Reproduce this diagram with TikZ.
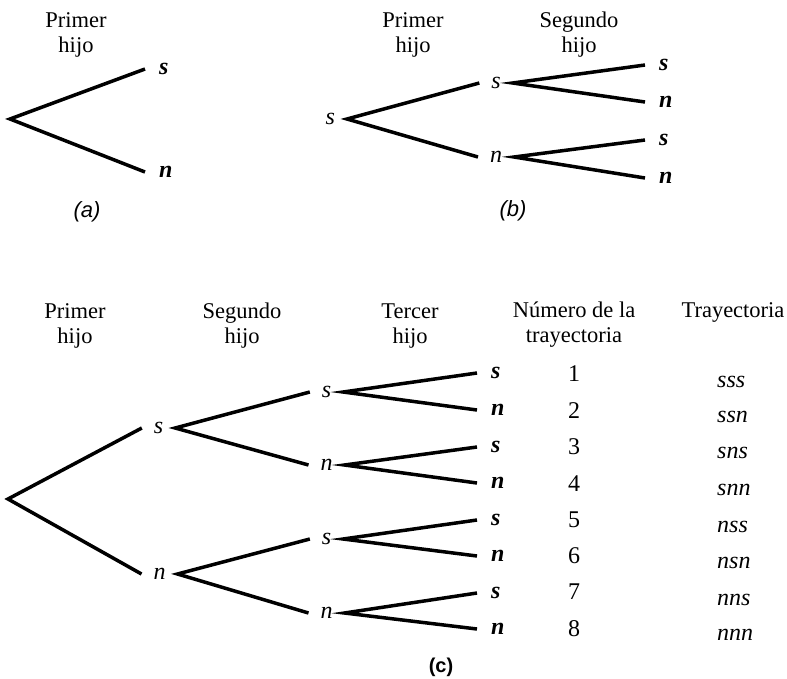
\documentclass[tikz,border=0pt]{standalone}
\usepackage{fontspec}
\setmainfont{Liberation Serif}
\setsansfont{Liberation Sans}
\begin{document}
\begin{tikzpicture}[x=1pt,y=-1pt,
  branch/.style={line width=3.5pt},
  head/.style={align=center,font=\fontsize{22.5}{24.5}\selectfont,inner sep=0pt,anchor=base},
  midlbl/.style={font=\fontsize{24}{26}\selectfont\itshape,inner xsep=12pt,inner ysep=0pt,
                text height=11pt,text depth=0pt,outer sep=0pt},
  leaf/.style={font=\fontsize{24}{26}\selectfont\bfseries\itshape,inner xsep=14pt,inner ysep=0pt,
               text height=11pt,text depth=0pt,outer sep=0pt,anchor=west},
  numlbl/.style={font=\fontsize{24}{26}\selectfont,inner sep=0pt,anchor=base},
  trail/.style={font=\fontsize{24}{26}\selectfont\itshape,inner sep=0pt,anchor=base west},
  sublbl/.style={font=\fontsize{22}{24}\selectfont\sffamily\itshape,inner sep=0pt},
  sublblc/.style={font=\fontsize{20}{22}\selectfont\sffamily\bfseries,inner sep=0pt}]
\useasboundingbox (0,0) rectangle (787,678);

% ---------- (a) ----------
\node[head] (ha) at (76,52) {Primer\\hijo};
\coordinate (ar) at (10,119);
\node[leaf] (as) at (145,69) {s};
\node[leaf] (an) at (145,172) {n};
\draw[branch] (as.west) -- (ar) -- (an.west);
\node[sublbl] (la) at (87,212) {(a)};

% ---------- (b) ----------
\node[head] (hb1) at (413,52) {Primer\\hijo};
\node[head] (hb2) at (579,52) {Segundo\\hijo};
\node[midlbl,anchor=east] (br) at (347,119) {s};
\node[midlbl] (bs) at (496,83) {s};
\node[midlbl] (bn) at (496,157) {n};
\node[leaf] (bss) at (645,65) {s};
\node[leaf] (bsn) at (645,102) {n};
\node[leaf] (bns) at (645,140) {s};
\node[leaf] (bnn) at (645,178) {n};
\draw[branch] (bs.west) -- (br.east) -- (bn.west);
\draw[branch] (bss.west) -- (bs.east) -- (bsn.west);
\draw[branch] (bns.west) -- (bn.east) -- (bnn.west);
\node[sublbl] (lb) at (513,211) {(b)};

% ---------- (c) ----------
\node[head] (hc1) at (75,343) {Primer\\hijo};
\node[head] (hc2) at (242,343) {Segundo\\hijo};
\node[head] (hc3) at (410,343) {Tercer\\hijo};
\node[head] (hc4) at (574,342) {Número de la\\trayectoria};
\node[head] (hc5) at (733,317) {Trayectoria};

\coordinate (cr) at (8,499);
\node[midlbl] (cs) at (158.5,428) {s};
\node[midlbl] (cn) at (159.5,574) {n};
\node[midlbl] (css) at (326.5,392) {s};
\node[midlbl] (csn) at (326.5,465) {n};
\node[midlbl] (cns) at (326.5,539) {s};
\node[midlbl] (cnn) at (326.5,613) {n};
\draw[branch] (cs.west) -- (cr) -- (cn.west);
\draw[branch] (css.west) -- (cs.east) -- (csn.west);
\draw[branch] (cns.west) -- (cn.east) -- (cnn.west);

\foreach \k/\y/\l in {1/373/s,2/410/n,3/447/s,4/483/n,5/520/s,6/556/n,7/593/s,8/629/n}{
  \node[leaf] (t\k) at (477,\y) {\l};
}
\draw[branch] (t1.west) -- (css.east) -- (t2.west);
\draw[branch] (t3.west) -- (csn.east) -- (t4.west);
\draw[branch] (t5.west) -- (cns.east) -- (t6.west);
\draw[branch] (t7.west) -- (cnn.east) -- (t8.west);

\foreach \k/\y in {1/381,2/418,3/454,4/491,5/527,6/563,7/599,8/636}{
  \node[numlbl] (n\k) at (574,\y) {\k};
}
\foreach \k/\y/\p in {1/387/sss,2/422/ssn,3/458/sns,4/495/snn,5/532/nss,6/568/nsn,7/605/nns,8/640/nnn}{
  \node[trail] (p\k) at (717,\y) {\p};
}
\node[sublblc] (lc) at (441,667) {(c)};
\end{tikzpicture}
\end{document}
